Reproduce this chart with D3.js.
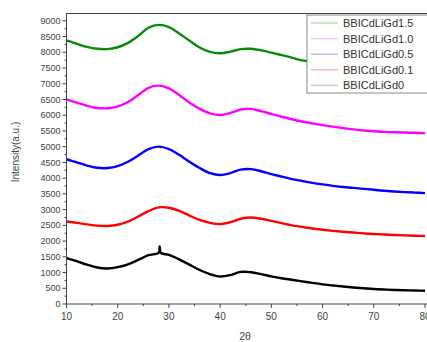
<!DOCTYPE html>
<html>
<head>
<meta charset="utf-8">
<script src="https://cdn.jsdelivr.net/npm/d3@7"></script>
<style>
  body { margin: 0; background: #fff; }
  svg { display: block; font-family: Arial, "Liberation Sans", sans-serif; }
</style>
</head>
<body>
<svg id="chart" width="427" height="342"></svg>
<script>
const twoTheta = [10,12,14,16,18,20,22,24,26,28,30,32,34,36,38,40,42,44,46,48,50,52,54,56,58,60,62,64,66,68,70,72,74,76,78,80];

const gd0   = [1460,1360,1250,1160,1130,1170,1260,1400,1550,1630,1560,1420,1250,1080,950,875,920,1020,1010,950,880,820,770,720,670,625,590,555,525,500,478,460,447,437,428,420];
const gd01  = [2620,2580,2530,2490,2480,2520,2620,2780,2950,3070,3060,2960,2810,2670,2580,2540,2600,2710,2750,2710,2640,2570,2500,2450,2400,2360,2325,2295,2270,2245,2225,2210,2195,2180,2170,2160];
const gd05  = [4600,4500,4400,4330,4320,4380,4520,4720,4920,5000,4920,4740,4520,4320,4160,4100,4160,4270,4285,4220,4130,4050,3970,3910,3850,3800,3755,3720,3690,3660,3630,3600,3575,3555,3540,3525];
const gd10  = [6500,6400,6300,6230,6220,6280,6420,6640,6870,6940,6850,6640,6400,6200,6060,6005,6070,6180,6200,6130,6040,5950,5870,5800,5740,5685,5635,5590,5550,5515,5490,5470,5458,5448,5440,5430];
const gd15  = [8380,8270,8170,8110,8100,8160,8300,8520,8780,8870,8800,8600,8370,8150,8010,7970,8020,8100,8110,8060,7990,7910,7830,7740,7690,7650,7600,7560,7520,7490,7470,7450,7430,7420,7410,7400];

// sharp spike on the undoped sample
const spikeX = [28.0, 28.2, 28.4];
const spikeY = [1630, 1830, 1625];

const seriesNames = ["BBICdLiGd1.5","BBICdLiGd1.0","BBICdLiGd0.5","BBICdLiGd0.1","BBICdLiGd0"];
const seriesValues = [gd15, gd10, gd05, gd01, gd0];
const seriesColors = ["#0a8a0a","#ff00ff","#0000ff","#ff0000","#000000"];
const legendColors = ["#b8e0b8","#f6c4f6","#bcbcf6","#f6bcbc","#cccccc"];

const yTicks = d3.range(0, 9001, 500);
const xTicks = [10,20,30,40,50,60,70,80];

(() => {
  const svg = d3.select("#chart");
  const left = 66.5, right = 425, plotTop = 13.5, bottom = 304;

  const x = d3.scaleLinear().domain([10, 80]).range([left, right]);
  const y = d3.scaleLinear().domain([0, 9000]).range([bottom, 20.8]);

  // curves
  const line = d3.line()
    .x(d => x(d[0]))
    .y(d => y(d[1]))
    .curve(d3.curveCatmullRom.alpha(0.5));

  seriesValues.forEach((vals, i) => {
    let pts = twoTheta.map((t, j) => [t, vals[j]]);
    if (i === 4) {
      pts = pts.filter(p => p[0] !== 28);
      spikeX.forEach((t, k) => pts.push([t, spikeY[k]]));
      pts.sort((a, b) => a[0] - b[0]);
    }
    svg.append("path")
      .datum(pts)
      .attr("fill", "none")
      .attr("stroke", seriesColors[i])
      .attr("stroke-width", 2.4)
      .attr("stroke-linejoin", "round")
      .attr("d", line);
  });

  // frame
  svg.append("rect")
    .attr("x", left).attr("y", plotTop)
    .attr("width", 427 - left + 2).attr("height", bottom - plotTop)
    .attr("fill", "none")
    .attr("stroke", "#444")
    .attr("stroke-width", 1);

  // y axis
  const yAxis = svg.append("g").attr("transform", `translate(${left},0)`);
  yAxis.selectAll(".minor")
    .data(d3.range(250, 9001, 500))
    .join("line")
    .attr("x1", -2).attr("x2", 0)
    .attr("y1", d => y(d)).attr("y2", d => y(d))
    .attr("stroke", "#444");
  yAxis.selectAll(".major")
    .data(yTicks)
    .join("line")
    .attr("x1", -4).attr("x2", 0)
    .attr("y1", d => y(d)).attr("y2", d => y(d))
    .attr("stroke", "#444");
  yAxis.selectAll("text")
    .data(yTicks)
    .join("text")
    .attr("x", -6)
    .attr("y", d => y(d))
    .attr("dy", "0.35em")
    .attr("text-anchor", "end")
    .attr("font-size", 9)
    .attr("fill", "#444")
    .text(d => d);

  // x axis
  const xAxis = svg.append("g").attr("transform", `translate(0,${bottom})`);
  xAxis.selectAll(".minor")
    .data([15,25,35,45,55,65,75])
    .join("line")
    .attr("x1", d => x(d)).attr("x2", d => x(d))
    .attr("y1", 0).attr("y2", 2)
    .attr("stroke", "#444");
  xAxis.selectAll(".major")
    .data(xTicks)
    .join("line")
    .attr("x1", d => x(d)).attr("x2", d => x(d))
    .attr("y1", 0).attr("y2", 4)
    .attr("stroke", "#444");
  xAxis.selectAll("text")
    .data(xTicks)
    .join("text")
    .attr("x", d => x(d))
    .attr("y", 16)
    .attr("text-anchor", "middle")
    .attr("font-size", 10)
    .attr("fill", "#444")
    .text(d => d);

  // axis titles
  svg.append("text")
    .attr("x", 245).attr("y", 340)
    .attr("text-anchor", "middle")
    .attr("font-size", 10.5)
    .attr("fill", "#444")
    .text("2θ");
  svg.append("text")
    .attr("transform", "translate(19,152) rotate(-90)")
    .attr("text-anchor", "middle")
    .attr("font-size", 10)
    .attr("fill", "#444")
    .text("Intensity(a.u.)");

  // legend
  const legend = svg.append("g").attr("transform", "translate(307,15)");
  legend.append("rect")
    .attr("x", 0).attr("y", 0)
    .attr("width", 130).attr("height", 78)
    .attr("fill", "#fff")
    .attr("stroke", "#888");
  seriesNames.forEach((name, i) => {
    const cy = 8 + i * 15.6;
    legend.append("line")
      .attr("x1", 4).attr("x2", 31)
      .attr("y1", cy).attr("y2", cy)
      .attr("stroke", legendColors[i])
      .attr("stroke-width", 1.5);
    legend.append("text")
      .attr("x", 36).attr("y", cy)
      .attr("dy", "0.36em")
      .attr("font-size", 11)
      .attr("fill", "#333")
      .text(name);
  });
})();
</script>
</body>
</html>
